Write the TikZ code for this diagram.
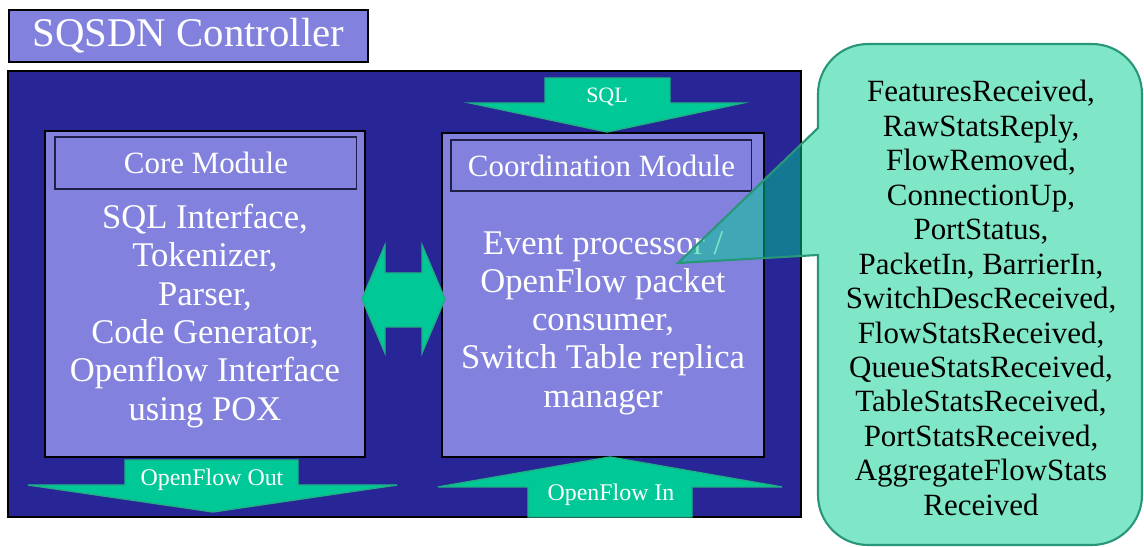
\documentclass[tikz,border=0pt]{standalone}
\usepackage{fontspec}
\setmainfont{Liberation Serif}
\definecolor{outerblue}{RGB}{40,38,150}
\definecolor{lightpurple}{RGB}{130,130,222}
\definecolor{arrowgreen}{RGB}{0,200,150}
\definecolor{arrowedge}{RGB}{30,175,135}
\definecolor{callfill}{RGB}{0,205,145}
\definecolor{calledge}{RGB}{40,150,120}
\definecolor{titleedge}{RGB}{30,30,70}
\begin{document}
\begin{tikzpicture}[x=0.02cm,y=-0.02cm,
  panel/.style={draw=black,line width=1.6pt,fill=lightpurple,inner sep=0pt,outer sep=0pt,anchor=north west},
  outerpanel/.style={draw=black,line width=1.2pt,fill=outerblue,inner sep=0pt,outer sep=0pt,anchor=north west},
  headrect/.style={draw=titleedge,line width=0.6pt,fill=lightpurple,inner sep=0pt,outer sep=0pt,anchor=north west,text=white,font=\fontsize{17.6}{20}\selectfont},
  bodytext/.style={text=white,align=center,inner sep=0pt,font=\fontsize{19.7}{21.8}\selectfont},
  blockarrow/.style={fill=arrowgreen,draw=arrowedge,line width=0.8pt,line join=miter},
  arrowlabel/.style={text=white,inner sep=0pt,font=\fontsize{13.6}{15}\selectfont},
  callout/.style={fill=callfill,fill opacity=0.5,draw=calledge,line width=1.2pt},
  bubbletext/.style={text=black,align=center,inner sep=0pt,font=\fontsize{17.6}{19.6}\selectfont}
]
\useasboundingbox (0,0) rectangle (1144,547);

% title
\node[panel,minimum width=7.18cm,minimum height=1.04cm,text=white,font=\fontsize{23.2}{26}\selectfont] (title) at (9,10) {SQSDN Controller};

% outer controller box
\node[outerpanel,minimum width=15.86cm,minimum height=8.92cm] (outer) at (8,71) {};

% modules
\node[panel,minimum width=6.4cm,minimum height=6.52cm] (core) at (45,131) {};
\node[panel,minimum width=6.44cm,minimum height=6.48cm] (coord) at (442,133) {};
\node[headrect,minimum width=6.04cm,minimum height=1.04cm] (corehead) at (55,137) {Core Module};
\node[headrect,minimum width=6.02cm,minimum height=1.02cm] (coordhead) at (451,140) {Coordination Module};

\node[bodytext] (corebody) at (205,316) {SQL Interface,\\Tokenizer,\\Parser,\\Code Generator,\\Openflow Interface\\using POX};
\node[bodytext] (coordbody) at (603,323) {Event processor /\\OpenFlow packet\\consumer,\\Switch Table replica\\manager};

% block arrows
\path[blockarrow] (545,78) -- (670,78) -- (670,103) -- (743,103) -- (607,132) -- (470,103) -- (545,103) -- cycle;
\node[arrowlabel,font=\fontsize{12.5}{14}\selectfont] (sqllbl) at (607,97) {SQL};

\path[blockarrow] (125,460) -- (298,460) -- (298,485) -- (397,485) -- (213,512) -- (28,485) -- (125,485) -- cycle;
\node[arrowlabel] (outlbl) at (212,480) {OpenFlow Out};

\path[blockarrow] (610,457) -- (782,487) -- (692,487) -- (692,517) -- (528,517) -- (528,487) -- (438,487) -- cycle;
\node[arrowlabel] (inlbl) at (611,495) {OpenFlow In};

\path[blockarrow] (362,299) -- (385,245) -- (385,273) -- (422,273) -- (422,245) -- (445,299) -- (422,353) -- (422,327) -- (385,327) -- (385,353) -- cycle;

% callout
\path[callout] (818,128) -- (818,94) arc[start angle=180,end angle=90,radius=1cm]
  -- (1092,44) arc[start angle=90,end angle=0,radius=1cm]
  -- (1142,495) arc[start angle=0,end angle=-90,radius=1cm]
  -- (868,545) arc[start angle=-90,end angle=-180,radius=1cm]
  -- (818,255) -- (678,263) -- cycle;
\node[bubbletext] (events) at (981,298) {FeaturesReceived,\\RawStatsReply,\\FlowRemoved,\\ConnectionUp,\\PortStatus,\\PacketIn, BarrierIn,\\SwitchDescReceived,\\FlowStatsReceived,\\QueueStatsReceived,\\TableStatsReceived,\\PortStatsReceived,\\AggregateFlowStats\\Received};
\end{tikzpicture}
\end{document}
